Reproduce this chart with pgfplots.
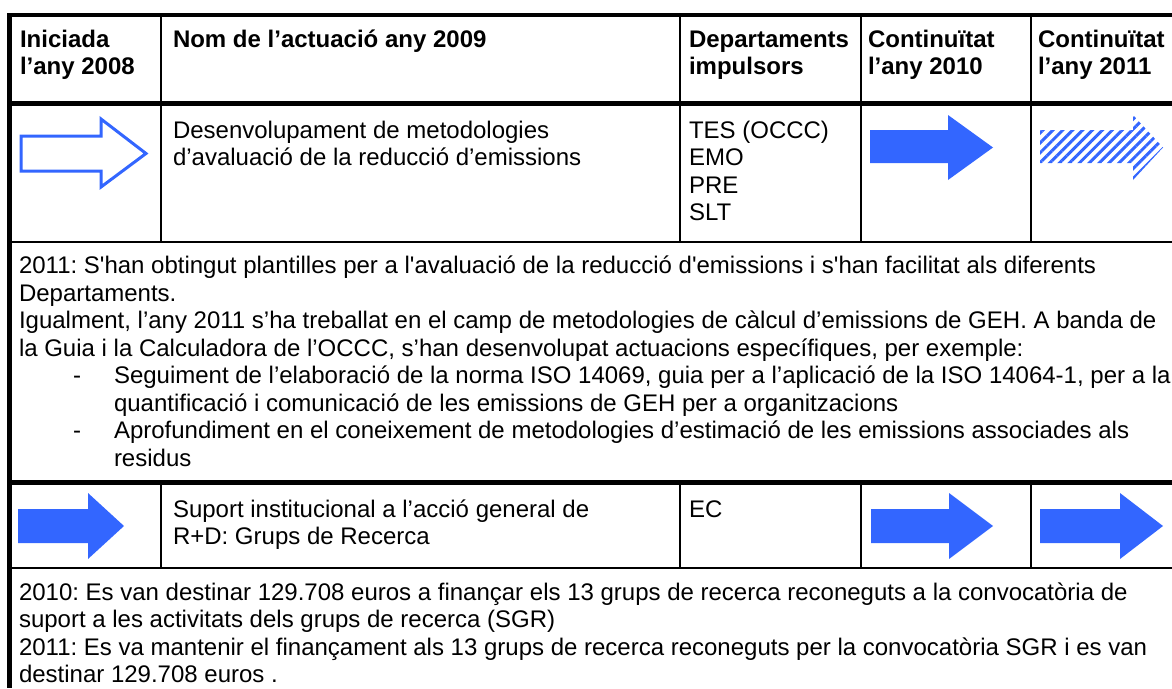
\documentclass[border=0pt]{standalone}
\usepackage{pgfplots}
\pgfplotsset{compat=1.18}
\usepackage{fontspec}
\setmainfont{Liberation Sans}
\usetikzlibrary{patterns.meta}
\definecolor{arrowblue}{RGB}{51,102,255}
\frenchspacing
\tikzset{tx/.style={anchor=base west, inner sep=0pt, outer sep=0pt, font=\fontsize{24}{27.5}\selectfont\frenchspacing},
         tb/.style={tx, font=\fontsize{24}{27.5}\selectfont\frenchspacing\bfseries}}
\begin{document}
\begin{tikzpicture}
\useasboundingbox (0,0) rectangle (1172pt,688pt);
\begin{axis}[width=1172pt, height=688pt, scale only axis,
  xmin=0, xmax=1172, ymin=0, ymax=688, y dir=reverse,
  hide axis, clip=true]
% ---- table rules ----
\addplot[black, line width=4.5pt] coordinates {(7,15) (1172,15)};
\addplot[black, line width=5pt] coordinates {(9.5,13) (9.5,688)};
\addplot[black, line width=5pt] coordinates {(7,103.5) (1172,103.5)};
\addplot[black, line width=2.5pt] coordinates {(7,242) (1172,242)};
\addplot[black, line width=5pt] coordinates {(7,482.5) (1172,482.5)};
\addplot[black, line width=2.5pt] coordinates {(7,568) (1172,568)};
% column separators, header + row 1
\addplot[black, line width=2.5pt] coordinates {(161,15) (161,242)};
\addplot[black, line width=2.5pt] coordinates {(680,15) (680,242)};
\addplot[black, line width=2.5pt] coordinates {(861,15) (861,242)};
\addplot[black, line width=2.5pt] coordinates {(1031,15) (1031,242)};
% column separators, row 3
\addplot[black, line width=2.5pt] coordinates {(161,482.5) (161,568)};
\addplot[black, line width=2.5pt] coordinates {(680,482.5) (680,568)};
\addplot[black, line width=2.5pt] coordinates {(861,482.5) (861,568)};
\addplot[black, line width=2.5pt] coordinates {(1031,482.5) (1031,568)};
% ---- arrows ----
% row 1: outline arrow (2008)
\addplot[draw=arrowblue, line width=3pt, line join=miter] coordinates {(21,136) (101,136) (101,119) (146,153.5) (101,187) (101,171) (21,171)} -- cycle;
% row 1: solid arrow (2010)
\addplot[fill=arrowblue, draw=none] coordinates {(870,130) (948,130) (948,115) (993,147.5) (948,180) (948,163) (870,163)} -- cycle;
% row 1: hatched arrow (2011)
\addplot[pattern={Lines[angle=45,distance=7pt,line width=3pt]}, pattern color=arrowblue, draw=none] coordinates {(1040,130) (1133,130) (1133,115) (1163,147.5) (1133,180) (1133,163) (1040,163)} -- cycle;
% row 3: solid arrows
\addplot[fill=arrowblue, draw=none] coordinates {(18,509) (88,509) (88,493) (124,526) (88,559) (88,543) (18,543)} -- cycle;
\addplot[fill=arrowblue, draw=none] coordinates {(871,509) (949,509) (949,493) (993,526) (949,559) (949,543) (871,543)} -- cycle;
\addplot[fill=arrowblue, draw=none] coordinates {(1040,509) (1120,509) (1120,493) (1163,526) (1120,559) (1120,543) (1040,543)} -- cycle;
% ---- header ----
\node[tb] at (axis cs:20,47) {Iniciada};
\node[tb] at (axis cs:20,74.5) {l’any 2008};
\node[tb] at (axis cs:173,47) {Nom de l’actuació any 2009};
\node[tb] at (axis cs:689,47) {Departaments};
\node[tb] at (axis cs:689,74.5) {impulsors};
\node[tb] at (axis cs:868,47) {Continuïtat};
\node[tb] at (axis cs:868,74.5) {l’any 2010};
\node[tb] at (axis cs:1038,47) {Continuïtat};
\node[tb] at (axis cs:1038,74.5) {l’any 2011};
% ---- row 1 ----
\node[tx] at (axis cs:173,138) {Desenvolupament de metodologies};
\node[tx] at (axis cs:173,165.5) {d’avaluació de la reducció d’emissions};
\node[tx] at (axis cs:689,138) {TES (OCCC)};
\node[tx] at (axis cs:689,165.5) {EMO};
\node[tx] at (axis cs:689,193) {PRE};
\node[tx] at (axis cs:689,220.5) {SLT};
% ---- row 2 ----
\node[tx] at (axis cs:19,273.5) {2011: S\textquotesingle han obtingut plantilles per a l\textquotesingle avaluació de la reducció d\textquotesingle emissions i s\textquotesingle han facilitat als diferents};
\node[tx] at (axis cs:19,301) {Departaments.};
\node[tx] at (axis cs:19,328.5) {Igualment, l’any 2011 s’ha treballat en el camp de metodologies de càlcul d’emissions de GEH. A banda de};
\node[tx] at (axis cs:19,356) {la Guia i la Calculadora de l’OCCC, s’han desenvolupat actuacions específiques, per exemple:};
\node[tx] at (axis cs:73,383.5) {-};
\node[tx] at (axis cs:114,383.5) {Seguiment de l’elaboració de la norma ISO 14069, guia per a l’aplicació de la ISO 14064-1, per a la};
\node[tx] at (axis cs:114,411) {quantificació i comunicació de les emissions de GEH per a organitzacions};
\node[tx] at (axis cs:73,438.5) {-};
\node[tx] at (axis cs:114,438.5) {Aprofundiment en el coneixement de metodologies d’estimació de les emissions associades als};
\node[tx] at (axis cs:114,466) {residus};
% ---- row 3 ----
\node[tx] at (axis cs:173,517) {Suport institucional a l’acció general de};
\node[tx] at (axis cs:173,544.5) {R+D: Grups de Recerca};
\node[tx] at (axis cs:689,517) {EC};
% ---- row 4 ----
\node[tx] at (axis cs:19,600) {2010: Es van destinar 129.708 euros a finançar els 13 grups de recerca reconeguts a la convocatòria de};
\node[tx] at (axis cs:19,627.5) {suport a les activitats dels grups de recerca (SGR)};
\node[tx] at (axis cs:19,655) {2011: Es va mantenir el finançament als 13 grups de recerca reconeguts per la convocatòria SGR i es van};
\node[tx] at (axis cs:19,682.5) {destinar 129.708 euros .};
\end{axis}
\end{tikzpicture}
\end{document}
